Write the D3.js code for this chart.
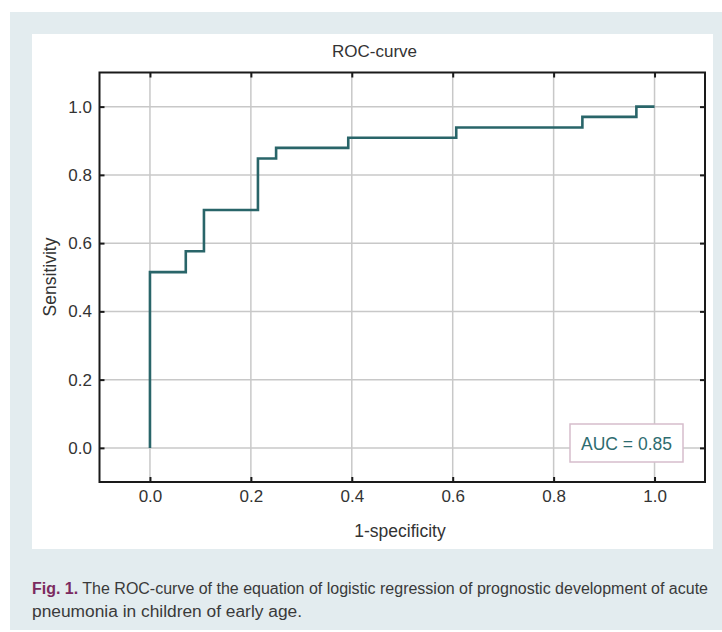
<!DOCTYPE html>
<html>
<head>
<meta charset="utf-8">
<script src="https://cdn.jsdelivr.net/npm/d3@7"></script>
<style>
  body { margin: 0; background: #ffffff; }
  svg { display: block; font-family: "Liberation Sans", Arial, sans-serif; }
  svg text { font-family: "Liberation Sans", Arial, sans-serif; }
  svg text.caption { font-family: "Liberation Sans Narrow", "Liberation Sans", Arial, sans-serif; }
</style>
</head>
<body>
<script>
// ---- data ----
const fpr = [0, 0, 0.071, 0.107, 0.214, 0.25, 0.393, 0.607, 0.857, 0.964, 1.0];
const tpr = [0, 0.515, 0.576, 0.697, 0.848, 0.879, 0.909, 0.939, 0.970, 1.0, 1.0];
const xTicks = [0.0, 0.2, 0.4, 0.6, 0.8, 1.0];
const yTicks = [0.0, 0.2, 0.4, 0.6, 0.8, 1.0];
const titleText = "ROC-curve";
const xLabel = "1-specificity";
const yLabel = "Sensitivity";
const aucText = "AUC = 0.85";
const captionLead = "Fig. 1.";
const captionLine1 = " The ROC-curve of the equation of logistic regression of prognostic development of acute";
const captionLine2 = "pneumonia in children of early age.";

const W = 722, H = 632;
const svg = d3.select("body").append("svg").attr("width", W).attr("height", H);

// backgrounds
svg.append("rect").attr("x", 10).attr("y", 12).attr("width", W - 10).attr("height", 618).attr("fill", "#e3ecef");
svg.append("rect").attr("x", 32).attr("y", 34).attr("width", 681).attr("height", 515).attr("fill", "#ffffff");

const L = 99.5, R = 705, T = 72.5, B = 482;
const x = d3.scaleLinear().domain([-0.1, 1.1]).range([L, R]);
const y = d3.scaleLinear().domain([-0.1, 1.1]).range([B, T]);

// grid
const grid = svg.append("g");
grid.selectAll("line.vx").data(xTicks).join("line")
  .attr("x1", d => x(d)).attr("x2", d => x(d)).attr("y1", T).attr("y2", B)
  .attr("stroke", "#c8c8c8").attr("stroke-width", 1.5);
grid.selectAll("line.hy").data(yTicks).join("line")
  .attr("y1", d => y(d)).attr("y2", d => y(d)).attr("x1", L).attr("x2", R)
  .attr("stroke", "#c8c8c8").attr("stroke-width", 1.5);

// axes
const fmt = d3.format(".1f");
function styleAxis(g) {
  g.attr("font-family", "Liberation Sans, Arial, sans-serif");
  g.select(".domain").remove();
  g.selectAll(".tick line").attr("stroke", "#1a1a1a").attr("stroke-width", 2);
  g.selectAll(".tick text").attr("fill", "#333").style("font-size", "17px");
}
svg.append("g").attr("transform", `translate(0,${B})`)
  .call(d3.axisBottom(x).tickValues(xTicks).tickFormat(fmt).tickSize(-5).tickPadding(8))
  .call(styleAxis);
svg.append("g").attr("transform", `translate(0,${T})`)
  .call(d3.axisTop(x).tickValues(xTicks).tickFormat("").tickSize(-5))
  .call(styleAxis);
svg.append("g").attr("transform", `translate(${L},0)`)
  .call(d3.axisLeft(y).tickValues(yTicks).tickFormat(fmt).tickSize(-5).tickPadding(7.5))
  .call(styleAxis);
svg.append("g").attr("transform", `translate(${R},0)`)
  .call(d3.axisRight(y).tickValues(yTicks).tickFormat("").tickSize(-5))
  .call(styleAxis);

// frame
svg.append("rect").attr("x", L).attr("y", T).attr("width", R - L).attr("height", B - T)
  .attr("fill", "none").attr("stroke", "#1a1a1a").attr("stroke-width", 2);

// ROC curve
const pts = fpr.map((f, i) => [f, tpr[i]]);
const line = d3.line().x(d => x(d[0])).y(d => y(d[1])).curve(d3.curveStepAfter);
svg.append("path").datum(pts).attr("d", line)
  .attr("fill", "none").attr("stroke", "#296569").attr("stroke-width", 2.6)
  .attr("stroke-linejoin", "miter");

// AUC box
svg.append("rect").attr("x", 570).attr("y", 424).attr("width", 113).attr("height", 38)
  .attr("fill", "#ffffff").attr("stroke", "#d6bdcc").attr("stroke-width", 1.5);
svg.append("text").attr("x", 626.5).attr("y", 449.5).attr("text-anchor", "middle")
  .attr("fill", "#2e6c70").style("font-size", "17.5px").text(aucText);

// titles
svg.append("text").attr("x", 374.5).attr("y", 56.5).attr("text-anchor", "middle")
  .attr("fill", "#333").style("font-size", "17px").text(titleText);
svg.append("text").attr("x", 400).attr("y", 537).attr("text-anchor", "middle")
  .attr("fill", "#333").style("font-size", "17.5px").text(xLabel);
svg.append("text").attr("transform", "translate(56,277) rotate(-90)").attr("text-anchor", "middle")
  .attr("fill", "#333").style("font-size", "17.5px").text(yLabel);

// caption
const c1 = svg.append("text").attr("class", "caption").attr("x", 32).attr("y", 594).style("font-size", "16px")
  .attr("textLength", 676).attr("lengthAdjust", "spacingAndGlyphs");
c1.append("tspan").attr("fill", "#7b2a60").attr("font-weight", "bold").text(captionLead);
c1.append("tspan").attr("fill", "#3a3a3a").text(captionLine1);
svg.append("text").attr("class", "caption").attr("x", 32).attr("y", 617).style("font-size", "16px")
  .attr("fill", "#3a3a3a").attr("textLength", 270).attr("lengthAdjust", "spacingAndGlyphs")
  .text(captionLine2);
</script>
</body>
</html>
